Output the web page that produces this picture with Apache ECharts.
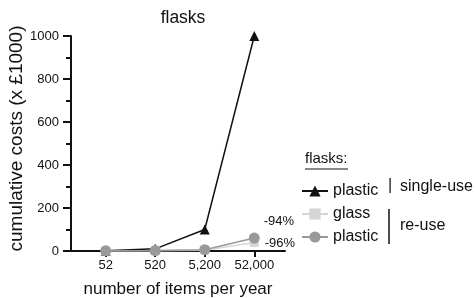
<!DOCTYPE html>
<html><head><meta charset="utf-8">
<script src="https://cdn.jsdelivr.net/npm/echarts@6/dist/echarts.min.js"></script>
<style>html,body{margin:0;padding:0;background:#fff}#c{width:476px;height:298px}</style>
</head><body><div id="c"></div>
<script>
const categories = ['52', '520', '5,200', '52,000'];
const singleUsePlastic = [1, 10, 100, 1000];
const reuseGlass = [0.4, 1, 4, 40];
const reusePlastic = [0.6, 2, 6, 60];
const yTicks = [0, 200, 400, 600, 800, 1000];
const changeLabels = ['-94%', '-96%'];

const F = 'Liberation Sans, Arial, sans-serif';
const toPts = arr => arr.map((v, i) => [i, v]);

const chart = echarts.init(document.getElementById('c'), null, {renderer: 'canvas'});
const glassData = toPts(reuseGlass);
glassData[3] = {value: glassData[3], label: {show: true, formatter: changeLabels[1], position: 'right', distance: 6, offset: [0, 1], color: '#111', fontSize: 13, fontFamily: F}};
const rpData = toPts(reusePlastic);
rpData[3] = {value: rpData[3], label: {show: true, formatter: changeLabels[0], position: 'right', distance: 4, offset: [0, -17], color: '#111', fontSize: 13, fontFamily: F}};

chart.setOption({
  animation: false,
  backgroundColor: '#fff',
  title: {text: 'flasks', left: 178, top: 4, textAlign: 'center', textStyle: {fontFamily: F, fontSize: 17.5, fontWeight: 'normal', color: '#111'}},
  grid: {left: 71, top: 36, right: 191, bottom: 47, containLabel: false, outerBoundsMode: 'none'},
  xAxis: {
    type: 'value', min: -0.7, max: 3.62,
    name: 'number of items per year', nameLocation: 'middle', nameGap: 30,
    nameTextStyle: {fontFamily: F, fontSize: 17, color: '#111'},
    axisLine: {onZero: false, lineStyle: {color: '#111', width: 2}},
    axisTick: {show: true, customValues: [0, 1, 2, 3], length: 6, lineStyle: {color: '#111', width: 2}},
    axisLabel: {customValues: [0, 1, 2, 3], formatter: v => categories[Math.round(v)], fontFamily: F, fontSize: 13, color: '#111', margin: 8},
    splitLine: {show: false}
  },
  yAxis: {
    type: 'value', min: yTicks[0], max: yTicks[yTicks.length - 1], interval: 200,
    name: 'cumulative costs (x £1000)', nameLocation: 'middle', nameGap: 42,
    nameTextStyle: {fontFamily: F, fontSize: 19, color: '#111', padding: [0, 0, 0, 10]},
    axisLine: {show: true, onZero: false, lineStyle: {color: '#111', width: 2}},
    axisTick: {show: true, length: 8, lineStyle: {color: '#111', width: 2}},
    minorTick: {show: true, splitNumber: 2, length: 5, lineStyle: {color: '#111', width: 2}},
    axisLabel: {formatter: v => String(v), fontFamily: F, fontSize: 13, color: '#111', margin: 12},
    splitLine: {show: false}
  },
  legend: {
    orient: 'vertical', left: 296, top: 178, itemGap: 7, itemWidth: 26, itemHeight: 14,
    textStyle: {fontFamily: F, fontSize: 16, color: '#111'},
    formatter: n => n.trim(),
    data: ['plastic', 'glass', 'plastic ']
  },
  graphic: [
    {type: 'text', left: 305, top: 151, style: {text: 'flasks:', font: '15px ' + F, fill: '#111'}},
    {type: 'line', shape: {x1: 305, y1: 169, x2: 348, y2: 169}, style: {stroke: '#111', lineWidth: 1}},
    {type: 'text', left: 388, top: 178, style: {text: '|', font: '16px ' + F, fill: '#111'}},
    {type: 'text', left: 400, top: 179, style: {text: 'single-use', font: '16px ' + F, fill: '#111'}},
    {type: 'line', shape: {x1: 389, y1: 209, x2: 389, y2: 244}, style: {stroke: '#111', lineWidth: 1.5}},
    {type: 'text', left: 400, top: 218, style: {text: 're-use', font: '16px ' + F, fill: '#111'}}
  ],
  series: [
    {name: 'plastic', type: 'line', data: toPts(singleUsePlastic), symbol: 'triangle', symbolSize: 10,
     itemStyle: {color: '#111'}, lineStyle: {color: '#111', width: 1.5}, z: 2},
    {name: 'glass', type: 'line', data: glassData, symbol: 'rect', symbolSize: 9,
     itemStyle: {color: '#d6d6d6'}, lineStyle: {color: '#d6d6d6', width: 1.5}, z: 3},
    {name: 'plastic ', type: 'line', data: rpData, symbol: 'circle', symbolSize: 11,
     itemStyle: {color: '#999'}, lineStyle: {color: '#999', width: 1.5}, z: 4}
  ]
});
</script></body></html>
